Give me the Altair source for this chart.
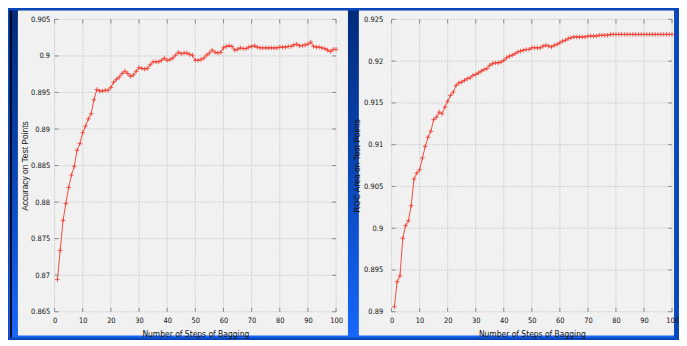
import altair as alt
import pandas as pd

steps = list(range(1, 101))

accuracy = [
    0.8694, 0.8734, 0.8775, 0.8798, 0.8820, 0.8837, 0.8849, 0.8871, 0.8880, 0.8895,
    0.8904, 0.8914, 0.8921, 0.8940, 0.8954, 0.8952, 0.8952, 0.8953, 0.8953, 0.8957,
    0.8964, 0.8968, 0.8971, 0.8976, 0.8979, 0.8976, 0.8972, 0.8974, 0.8979, 0.8984,
    0.8983, 0.8982, 0.8983, 0.8988, 0.8992, 0.8992, 0.8992, 0.8994, 0.8997, 0.8994,
    0.8995, 0.8997, 0.9001, 0.9005, 0.9003, 0.9004, 0.9004, 0.9002, 0.9001, 0.8994,
    0.8994, 0.8995, 0.8997, 0.9001, 0.9004, 0.9008, 0.9005, 0.9004, 0.9005, 0.9011,
    0.9013, 0.9014, 0.9013, 0.9008, 0.9009, 0.9011, 0.9010, 0.9010, 0.9012, 0.9013,
    0.9014, 0.9012, 0.9011, 0.9011, 0.9011, 0.9011, 0.9011, 0.9011, 0.9011, 0.9012,
    0.9012, 0.9012, 0.9013, 0.9013, 0.9015, 0.9016, 0.9014, 0.9014, 0.9015, 0.9016,
    0.9019, 0.9013, 0.9012, 0.9012, 0.9011, 0.9010, 0.9008, 0.9006, 0.9009, 0.9009,
]

roc_area = [
    0.8906, 0.8936, 0.8943, 0.8988, 0.9003, 0.9009, 0.9027, 0.9059, 0.9066, 0.9070,
    0.9084, 0.9098, 0.9109, 0.9116, 0.9130, 0.9133, 0.9139, 0.9137, 0.9145, 0.9152,
    0.9159, 0.9163, 0.9171, 0.9174, 0.9175, 0.9177, 0.9179, 0.9180, 0.9183, 0.9184,
    0.9186, 0.9188, 0.9190, 0.9191, 0.9195, 0.9197, 0.9198, 0.9198, 0.9199, 0.9201,
    0.9204, 0.9206, 0.9207, 0.9209, 0.9211, 0.9212, 0.9213, 0.9214, 0.9214, 0.9216,
    0.9216, 0.9216, 0.9216, 0.9218, 0.9219, 0.9218, 0.9217, 0.9219, 0.9220, 0.9222,
    0.9224, 0.9225, 0.9227, 0.9228, 0.9229, 0.9229, 0.9229, 0.9229, 0.9229, 0.9230,
    0.9230, 0.9230, 0.9230, 0.9231, 0.9231, 0.9231, 0.9231, 0.9232, 0.9232, 0.9232,
    0.9232, 0.9232, 0.9232, 0.9232, 0.9232, 0.9232, 0.9232, 0.9232, 0.9232, 0.9232,
    0.9232, 0.9232, 0.9232, 0.9232, 0.9232, 0.9232, 0.9232, 0.9232, 0.9232, 0.9232,
]

x_ticks = [0, 10, 20, 30, 40, 50, 60, 70, 80, 90, 100]
acc_ticks = [0.865, 0.87, 0.875, 0.88, 0.885, 0.89, 0.895, 0.9, 0.905]
roc_ticks = [0.89, 0.895, 0.9, 0.905, 0.91, 0.915, 0.92, 0.925]

x_title = "Number of Steps of Bagging"
acc_title = "Accuracy on Test Points"
roc_title = "ROC Area on Test Points"

RED = "#f23a2e"
PANEL = "#f1f1f1"
FRAME = "#8a8a8a"
GRID = "#c8c8c8"
NARROW = "Liberation Sans Narrow, DejaVu Sans Condensed, Liberation Sans, Arial, sans-serif"
SANS = "Liberation Sans, Arial, sans-serif"

W_L, W_R, H = 284, 283, 295


def build_panel(values, yticks, ytitle, width, panel_box, label_pad, title_x, with_backdrop):
    df = pd.DataFrame({"step": steps, "value": values})
    xt = pd.DataFrame({"t": x_ticks})
    yt = pd.DataFrame({"t": yticks})
    one = pd.DataFrame({"k": [0]})

    xscale = alt.Scale(domain=[0, 100], nice=False, zero=False)
    yscale = alt.Scale(domain=[yticks[0], yticks[-1]], nice=False, zero=False)
    xaxis = alt.Axis(values=x_ticks, format="d", title=x_title, grid=False, ticks=False,
                     domain=False, labelPadding=5, zindex=1,
                     labelFont=NARROW, labelFontSize=7.5, labelColor="#111",
                     titleFont=NARROW, titleFontSize=8.5, titleFontWeight="normal",
                     titleColor="#111", labelFlush=False,
                     titleX=width / 2, titleY=22, titleBaseline="middle",
                     titleAlign="center")
    yaxis = alt.Axis(values=yticks, format=".3~f", title=ytitle, grid=False, ticks=False,
                     domain=False, labelPadding=label_pad, zindex=1,
                     labelFont=NARROW, labelFontSize=7.5, labelColor="#111",
                     titleFont=SANS, titleFontSize=8.5, titleFontWeight="normal",
                     titleColor="#111", labelFlush=False,
                     titleX=title_x, titleY=H / 2, titleBaseline="middle",
                     titleAlign="center", titleAngle=270)

    def X(field):
        return alt.X(f"{field}:Q", scale=xscale, axis=xaxis)

    def Y(field):
        return alt.Y(f"{field}:Q", scale=yscale, axis=yaxis)

    layers = []
    if with_backdrop:
        grad = alt.Gradient(
            gradient="linear",
            stops=[alt.GradientStop(color="#012b7a", offset=0),
                   alt.GradientStop(color="#0a47b8", offset=0.5),
                   alt.GradientStop(color="#1767fb", offset=1)],
            x1=0, x2=0, y1=0, y2=1,
        )
        layers.append(alt.Chart(one).mark_rect(color=grad).encode(
            x=alt.value(-46), x2=alt.value(625), y=alt.value(-9), y2=alt.value(321)))
        layers.append(alt.Chart(one).mark_rect(color="#05081a").encode(
            x=alt.value(-45), x2=alt.value(-43), y=alt.value(-9), y2=alt.value(321)))
    bx0, bx1, by0, by1 = panel_box
    layers.append(alt.Chart(one).mark_rect(color=PANEL).encode(
        x=alt.value(bx0), x2=alt.value(bx1), y=alt.value(by0), y2=alt.value(by1)))

    # grid
    layers.append(alt.Chart(xt).mark_rule(color=GRID, strokeDash=[2, 1], strokeWidth=0.8)
                  .encode(x=X("t")))
    layers.append(alt.Chart(yt).mark_rule(color=GRID, strokeDash=[2, 1], strokeWidth=0.8)
                  .encode(y=Y("t")))
    # inward ticks (mirrored)
    layers.append(alt.Chart(xt).mark_rule(color=FRAME, strokeWidth=1)
                  .encode(x=X("t"), y=alt.value(H - 4), y2=alt.value(H)))
    layers.append(alt.Chart(xt).mark_rule(color=FRAME, strokeWidth=1)
                  .encode(x=X("t"), y=alt.value(0), y2=alt.value(4)))
    layers.append(alt.Chart(yt).mark_rule(color=FRAME, strokeWidth=1)
                  .encode(y=Y("t"), x=alt.value(0), x2=alt.value(4)))
    layers.append(alt.Chart(yt).mark_rule(color=FRAME, strokeWidth=1)
                  .encode(y=Y("t"), x=alt.value(width - 4), x2=alt.value(width)))

    # data
    layers.append(alt.Chart(df).mark_line(color=RED, strokeWidth=0.9)
                  .encode(x=X("step"), y=Y("value")))
    layers.append(alt.Chart(df).mark_point(shape="M-1,0L1,0M0,-1L0,1", filled=False,
                                           size=22, strokeWidth=0.8, color=RED, opacity=1)
                  .encode(x=X("step"), y=Y("value")))

    return alt.layer(*layers).properties(width=width, height=H)


left = build_panel(accuracy, acc_ticks, acc_title, W_L, (-37, 296, -9, 319), 5, -30, True)
right = build_panel(roc_area, roc_ticks, roc_title, W_R, (-33, 285, -9, 319), 9, -35, False)

chart = alt.hconcat(left, right, spacing=56, bounds="flush").configure(
    padding=0, background="#0a47b8"
).configure_view(stroke=FRAME, strokeWidth=1, fill=PANEL)

chart.save("out.html", embed_options={"renderer": "svg", "actions": False})
